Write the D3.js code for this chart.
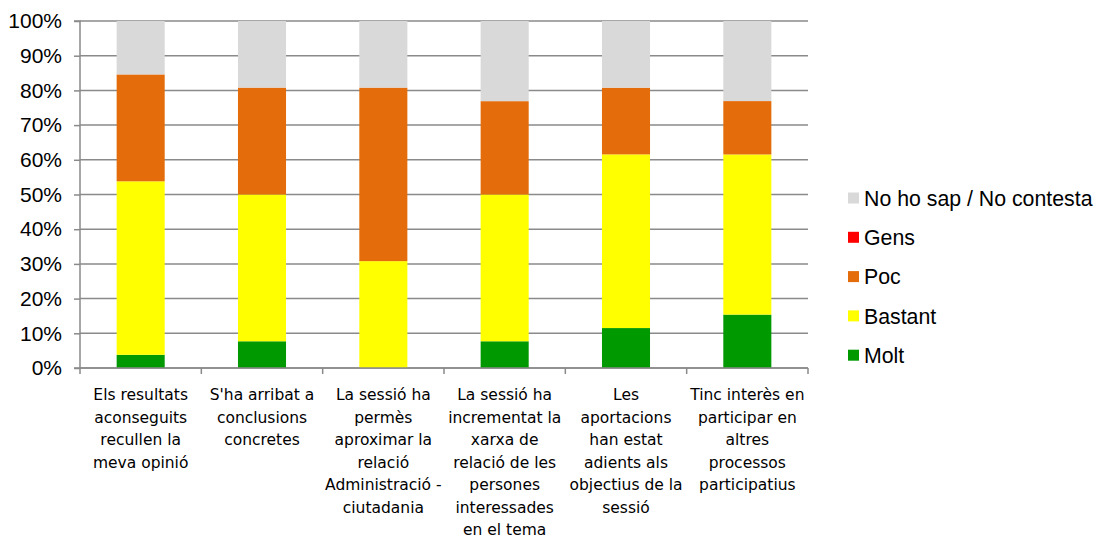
<!DOCTYPE html>
<html><head><meta charset="utf-8">
<script src="https://cdn.jsdelivr.net/npm/d3@7"></script>
<style>body{margin:0;background:#fff}svg{display:block}</style>
</head><body>
<svg id="c" width="1100" height="540"></svg>
<script>
const categories = [
  ["Els resultats","aconseguits","recullen la","meva opinió"],
  ["S'ha arribat a","conclusions","concretes"],
  ["La sessió ha","permès","aproximar la","relació","Administració -","ciutadania"],
  ["La sessió ha","incrementat la","xarxa de","relació de les","persones","interessades","en el tema"],
  ["Les","aportacions","han estat","adients als","objectius de la","sessió"],
  ["Tinc interès en","participar en","altres","processos","participatius"]
];
const seriesNames = ["Molt","Bastant","Poc","Gens","No ho sap / No contesta"];
const molt    = [3.8, 7.7, 0, 7.7, 11.5, 15.4];
const bastant = [50.0, 42.3, 30.8, 42.3, 50.0, 46.2];
const poc     = [30.8, 30.8, 50.0, 26.9, 19.2, 15.4];
const gens    = [0, 0, 0, 0, 0, 0];
const nsnc    = [15.4, 19.2, 19.2, 23.1, 19.2, 23.1];
const yTicks  = [0,10,20,30,40,50,60,70,80,90,100];
const colors  = ["#009900","#ffff00","#e46c0a","#ff0000","#d9d9d9"];

const seriesVals = [molt, bastant, poc, gens, nsnc];
const rows = categories.map((c,i)=>{
  const r = {idx:i};
  seriesNames.forEach((s,j)=> r[s]=seriesVals[j][i]);
  return r;
});

const svg = d3.select("#c");
const L=80, R=808, T=21, B=368;
const x = d3.scaleBand().domain(d3.range(categories.length)).range([L,R]).paddingInner(0.604).paddingOuter(0.302);
const y = d3.scaleLinear().domain([0,1]).range([B,T]);
const stack = d3.stack().keys(seriesNames).offset(d3.stackOffsetExpand);
const stacked = stack(rows);

const grid = "#8a8a8a";
svg.append("g").selectAll("line").data(yTicks).join("line")
  .attr("x1",L).attr("x2",R)
  .attr("y1",d=>y(d/100)).attr("y2",d=>y(d/100))
  .attr("stroke",grid).attr("stroke-width",1.5);

svg.append("g").selectAll("g").data(stacked).join("g")
  .attr("fill",(d,i)=>colors[i])
  .selectAll("rect").data(d=>d).join("rect")
  .attr("x",d=>x(d.data.idx))
  .attr("width",x.bandwidth())
  .attr("y",d=>y(d[1]))
  .attr("height",d=>Math.max(0,y(d[0])-y(d[1])));

const yAxis = d3.axisLeft(y).tickValues(yTicks.map(v=>v/100)).tickFormat(d=>Math.round(d*100)+"%").tickSize(6).tickPadding(12);
const ya = svg.append("g").attr("transform",`translate(${L},0)`).call(yAxis);
ya.select(".domain").attr("stroke",grid).attr("stroke-width",1.5).attr("d",`M-6,${T}H0V${B}H-6`);
ya.selectAll(".tick line").attr("stroke",grid).attr("stroke-width",1.5);
ya.selectAll(".tick text").attr("font-family","Liberation Sans, Arial, sans-serif").attr("font-size",21).attr("fill","#000");

const bounds = d3.range(categories.length+1).map(i=>L+i*(R-L)/categories.length);
svg.append("line").attr("x1",L).attr("x2",R).attr("y1",B).attr("y2",B).attr("stroke",grid).attr("stroke-width",1.5);
svg.append("g").selectAll("line").data(bounds).join("line")
  .attr("x1",d=>d).attr("x2",d=>d).attr("y1",B).attr("y2",B+6)
  .attr("stroke",grid).attr("stroke-width",1.5);

const lab = svg.append("g").selectAll("text").data(categories).join("text")
  .attr("text-anchor","middle")
  .attr("font-family","DejaVu Sans, sans-serif")
  .attr("font-size",15.5)
  .attr("fill","#000")
  .attr("transform",(d,i)=>`translate(${x(i)+x.bandwidth()/2},400)`);
lab.selectAll("tspan").data(d=>d).join("tspan")
  .attr("x",0).attr("y",(d,i)=>i*22.5).text(d=>d);

const legendOrder = [4,3,2,1,0];
const lg = svg.append("g").selectAll("g").data(legendOrder).join("g")
  .attr("transform",(d,i)=>`translate(848,${198+i*39.3})`);
lg.append("rect").attr("x",0).attr("y",-5.5).attr("width",11).attr("height",11).attr("fill",d=>colors[d]);
lg.append("text").attr("x",16).attr("y",0).attr("dy","0.36em")
  .attr("font-family","Liberation Sans, Arial, sans-serif").attr("font-size",21.3).attr("fill","#000")
  .text(d=>seriesNames[d]);
</script>
</body></html>
